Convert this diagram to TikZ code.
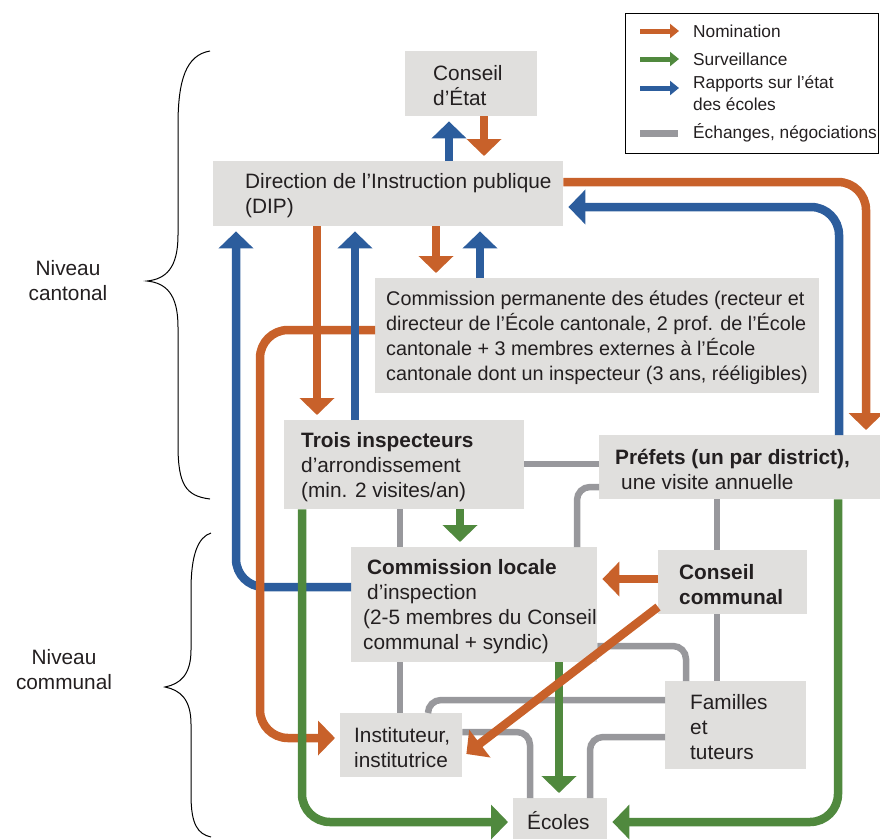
\documentclass[tikz,border=0pt]{standalone}
\usepackage{fontspec}
\setmainfont{Liberation Sans}
\usetikzlibrary{arrows.meta}
\definecolor{nominationColor}{RGB}{200,97,42}
\definecolor{surveillanceColor}{RGB}{80,137,62}
\definecolor{reportColor}{RGB}{44,93,157}
\definecolor{exchangeColor}{RGB}{152,152,156}
\definecolor{boxColor}{RGB}{224,223,221}
\definecolor{textColor}{RGB}{35,31,32}
\newcommand{\mainText}{\fontsize{20.8}{25}\selectfont}
\newcommand{\smallText}{\fontsize{19.8}{25}\selectfont}
\newcommand{\legendText}{\fontsize{17.3}{21.5}\selectfont}
\tikzstyle{schema} = [x = 1pt, y = -1pt]
\tikzstyle{boxStyle} = [fill=boxColor, inner sep=0pt, anchor=north west]
\tikzstyle{boxText} = [inner sep=0pt, anchor=west, yshift=-2pt, align=left, text=textColor, font=\mainText]
\tikzstyle{flowArrow} = [line width=8.5pt, -{Triangle[width=34pt,length=17pt]}, shorten >=5pt, rounded corners=28pt]
\tikzstyle{nominationArrow} = [flowArrow, draw=nominationColor]
\tikzstyle{surveillanceArrow} = [flowArrow, draw=surveillanceColor]
\tikzstyle{reportArrow} = [flowArrow, draw=reportColor]
\tikzstyle{exchangeLine} = [draw=exchangeColor, line width=6.5pt, rounded corners=13pt]
\tikzstyle{legendArrow} = [line width=5pt, -{Triangle[width=14pt,length=9pt]}]
\tikzstyle{legendLabel} = [anchor=west, inner sep=0pt, align=left, text=textColor, font=\legendText]
\tikzstyle{levelLabel} = [align=center, text=textColor, font=\mainText]
\tikzstyle{braceLine} = [draw=black, line width=1pt]
% #2 name, #3 #4 top left corner, #5 #6 size, #7 left padding of the text
\newcommand{\infoBox}[8][]{
  \node [boxStyle, minimum width=#5, minimum height=#6,
    label={[boxText, xshift=#7, #1]west:{#8}}] (#2) at (#3, #4) {};
}

\begin{document}
\begin{tikzpicture}[schema]
  \useasboundingbox (0,0) rectangle (880,839);

  % boxes
  \infoBox{conseilEtat}{405}{51}{132}{65}{28}{Conseil\\d’État}
  \infoBox{dip}{213}{161}{350}{65}{32}{Direction de l’Instruction publique\\(DIP)}
  \infoBox[font=\smallText]{commissionPermanente}{375}{278}{444}{115}{11}{Commission permanente des études (recteur et\\directeur de l’École cantonale, 2 prof. de l’École\\cantonale + 3 membres externes à l’École\\cantonale dont un inspecteur (3 ans, rééligibles)}
  \infoBox{inspecteurs}{284}{420}{240}{89}{17}{\textbf{Trois inspecteurs}\\d’arrondissement\\(min. 2 visites/an)}
  \infoBox{prefets}{599}{435}{281}{64}{16}{\textbf{Préfets (un par district),}\\\hspace*{6pt}une visite annuelle}
  \infoBox{commissionLocale}{351}{547}{246}{115}{12}{\hspace*{4pt}\textbf{Commission locale}\\\hspace*{4pt}d’inspection\\(2-5 membres du Conseil\\communal + syndic)}
  \infoBox{conseilCommunal}{658}{550}{149}{64}{21}{\textbf{Conseil}\\\textbf{communal}}
  \infoBox{familles}{665}{681}{141}{88}{25}{Familles\\et\\tuteurs}
  \infoBox{instituteur}{340}{713}{122}{64}{14}{Instituteur,\\institutrice}
  \infoBox{ecoles}{513}{798}{94}{41}{14}{Écoles}

  % exchanges
  \draw [exchangeLine] (inspecteurs.east |- 0,464) -- (prefets.west |- 0,464);
  \draw [exchangeLine] (400,0 |- inspecteurs.south) -- (400,0 |- commissionLocale.north);
  \draw [exchangeLine] (400,0 |- commissionLocale.south) -- (400,0 |- instituteur.north);
  \draw [exchangeLine] (prefets.west |- 0,487) -- (577,487) -- (577,0 |- commissionLocale.north);
  \draw [exchangeLine] (717,0 |- prefets.south) -- (717,0 |- conseilCommunal.north);
  \draw [exchangeLine] (717,0 |- conseilCommunal.south) -- (717,0 |- familles.north);
  \draw [exchangeLine] (commissionLocale.east |- 0,646) -- (686,646) -- (686,0 |- familles.north);
  \draw [exchangeLine] (familles.west |- 0,700) -- (428,700) -- (428,0 |- instituteur.north);
  \draw [exchangeLine] (instituteur.east |- 0,732) -- (530,732) -- (530,0 |- ecoles.north);
  \draw [exchangeLine] (familles.west |- 0,737) -- (590,737) -- (590,0 |- ecoles.north);

  % reports, nominations, surveillance
  \draw [reportArrow] (commissionLocale.west |- 0,587) -- (236,587) -- (236,0 |- dip.south);
  \draw [nominationArrow] (commissionPermanente.west |- 0,330) -- (260,330) -- (260,738) -- (instituteur.west |- 0,738);
  \draw [surveillanceArrow] (302,0 |- inspecteurs.south) -- (302,822) -- (ecoles.west |- 0,822);
  \draw [surveillanceArrow] (838,0 |- prefets.south) -- (838,822) -- (ecoles.east |- 0,822);
  \draw [reportArrow] (449,0 |- dip.north) -- (449,0 |- conseilEtat.south);
  \draw [nominationArrow] (484,0 |- conseilEtat.south) -- (484,0 |- dip.north);
  \draw [nominationArrow] (436,0 |- dip.south) -- (436,0 |- commissionPermanente.north);
  \draw [reportArrow] (480,0 |- commissionPermanente.north) -- (480,0 |- dip.south);
  \draw [nominationArrow] (317,0 |- dip.south) -- (317,0 |- inspecteurs.north);
  \draw [reportArrow] (355,0 |- inspecteurs.north) -- (355,0 |- dip.south);
  \draw [nominationArrow] (dip.east |- 0,182) -- (866,182) -- (866,0 |- prefets.north);
  \draw [reportArrow] (839,0 |- prefets.north) -- (839,207) -- (dip.east |- 0,207);
  \draw [surveillanceArrow] (460,0 |- inspecteurs.south) -- (460,0 |- commissionLocale.north);
  \draw [surveillanceArrow] (559,0 |- commissionLocale.south) -- (559,0 |- ecoles.north);
  \draw [nominationArrow] (conseilCommunal.west |- 0,579) -- (commissionLocale.east |- 0,579);
  \draw [nominationArrow] (conseilCommunal.west |- 0,607) -- (instituteur.east |- 0,757);

  % levels
  \draw [braceLine] (210,51) .. controls (186,55) and (178,80) .. (178,125) -- (178,235)
    .. controls (178,268) and (166,279) .. (147,281) .. controls (166,283) and (178,294) .. (178,327)
    -- (178,445) .. controls (178,485) and (186,496) .. (210,499);
  \draw [braceLine] (211,533) .. controls (198,537) and (191,555) .. (191,590) -- (191,650)
    .. controls (191,675) and (180,684) .. (165,687) .. controls (180,690) and (191,699) .. (191,724)
    -- (191,795) .. controls (191,825) and (198,834) .. (211,837);
  \node [levelLabel] (niveauCantonal) at (68,281) {Niveau\\cantonal};
  \node [levelLabel] (niveauCommunal) at (64,670) {Niveau\\communal};

  % legend
  \node [draw=black, line width=1.2pt, inner sep=0pt, minimum width=253, minimum height=140, anchor=north west] (legend) at (625,13) {};
  \foreach \legendColor/\legendY in {nominationColor/31, surveillanceColor/59, reportColor/88}
    \draw [legendArrow, draw=\legendColor] (640,\legendY) -- (679,\legendY);
  \draw [draw=exchangeColor, line width=7pt] (640,133) -- (678,133);
  \node [legendLabel] (nominationLabel) at (693,31) {Nomination};
  \node [legendLabel] (surveillanceLabel) at (693,59) {Surveillance};
  \node [legendLabel] (reportLabel) at (693,93) {Rapports sur l’état\\des écoles};
  \node [legendLabel] (exchangeLabel) at (693,133) {Échanges, négociations};
\end{tikzpicture}
\end{document}
